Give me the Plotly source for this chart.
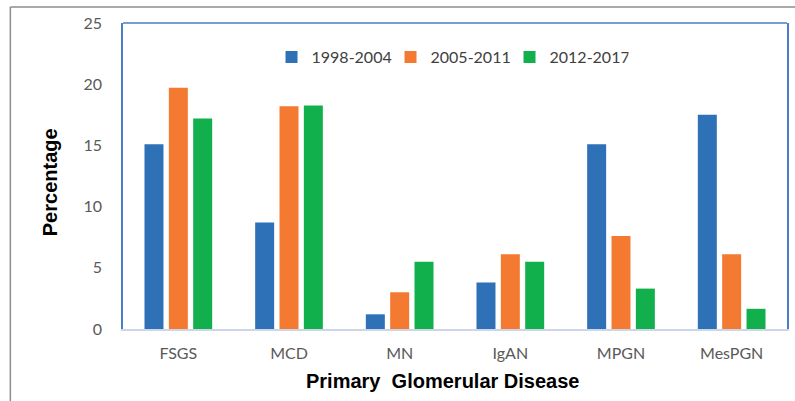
import plotly.graph_objects as go

categories = ["FSGS", "MCD", "MN", "IgAN", "MPGN", "MesPGN"]
series_names = ["1998-2004", "2005-2011", "2012-2017"]
vals_1998_2004 = [15.1, 8.7, 1.2, 3.8, 15.1, 17.5]
vals_2005_2011 = [19.7, 18.2, 3.0, 6.1, 7.6, 6.1]
vals_2012_2017 = [17.2, 18.25, 5.5, 5.5, 3.3, 1.65]
y_ticks = [0, 5, 10, 15, 20, 25]

colors = ["#2E71B6", "#F37A30", "#12B04C"]
series = [vals_1998_2004, vals_2005_2011, vals_2012_2017]

fig = go.Figure()
for name, vals, c in zip(series_names, series, colors):
    fig.add_trace(go.Bar(x=categories, y=vals, name=name, marker=dict(color=c, line=dict(width=0))))

W, H = 795, 401
L, R, T, B = 123, 6, 23, 72
pw, ph = W - L - R, H - T - B
def px_x(x):
    return (x - L) / pw
def px_y(y):
    return (H - B - y) / ph

title_font = dict(family="Liberation Sans, Arial", size=20, color="black", weight="bold")

fig.update_layout(
    width=W, height=H,
    margin=dict(l=L, r=R, t=T, b=B),
    paper_bgcolor="white", plot_bgcolor="white",
    barmode="group", bargap=0.34, bargroupgap=0.22,
    font=dict(family="Lato, Open Sans, sans-serif", size=16, color="#595959"),
    legend=dict(orientation="h", x=px_x(451), xanchor="center", y=px_y(57), yanchor="middle",
                font=dict(size=16, color="#404040"), bgcolor="rgba(0,0,0,0)",
                itemwidth=30, tracegroupgap=0, entrywidth=74, entrywidthmode="pixels"),
    xaxis=dict(showgrid=False, showline=True, linecolor="#CDD6E6", linewidth=2,
               ticks="", tickfont=dict(size=16, color="#595959"), ticklabelstandoff=9),
    yaxis=dict(range=[0, 25], tickvals=y_ticks, showgrid=False, showline=True, mirror=True,
               linecolor="#4A7CC8", linewidth=1.5, ticks="", ticklabelstandoff=16,
               tickfont=dict(size=16, color="#595959"), zeroline=False),
    showlegend=True,
)

# axis titles
fig.add_annotation(text="Primary  Glomerular Disease", xref="paper", yref="paper",
                   x=px_x(443), y=px_y(381), xanchor="center", yanchor="middle",
                   showarrow=False, font=title_font)
fig.add_annotation(text="Percentage", xref="paper", yref="paper", textangle=-90,
                   x=px_x(50), y=px_y(182), xanchor="center", yanchor="middle",
                   showarrow=False, font=title_font)

# top border of plot area
fig.add_shape(type="line", xref="paper", yref="paper", x0=0, x1=1, y0=1, y1=1,
              line=dict(color="#4A7CC8", width=1.5))
# outer gray frame (clipped at right and bottom)
fig.add_shape(type="line", xref="paper", yref="paper", x0=px_x(10), x1=px_x(800), y0=px_y(7), y1=px_y(7),
              line=dict(color="#8C8C8C", width=1.5))
fig.add_shape(type="line", xref="paper", yref="paper", x0=px_x(10), x1=px_x(10), y0=px_y(7), y1=px_y(410),
              line=dict(color="#8C8C8C", width=1.5))

fig.write_html("out.html", config={"displayModeBar": False},
               post_script="document.body.style.margin='0';document.body.style.overflow='hidden';")
